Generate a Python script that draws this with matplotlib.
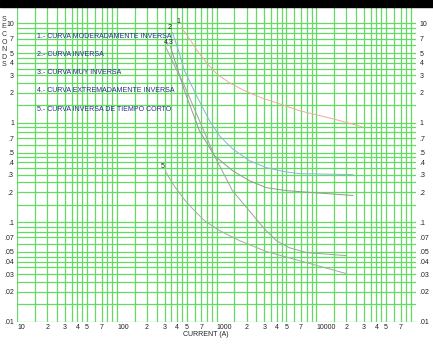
import matplotlib.pyplot as plt
from matplotlib.patches import Rectangle

plt.rcParams['font.family'] = ['Liberation Sans', 'DejaVu Sans']

# curve data: current (A) and time (s)
C1_I = [444, 533, 671, 807, 994, 1340, 1893, 2800, 4240, 6714, 14300, 28650]
C1_T = [9.0, 6.99, 4.93, 3.92, 3.11, 2.52, 2.10, 1.78, 1.55, 1.32, 1.10, 0.91]

C2_I = [361, 414, 475, 627, 845, 1064, 1436, 2123, 3140, 4750, 6720, 23300]
C2_T = [8.03, 5.29, 3.33, 1.87, 1.05, 0.74, 0.548, 0.415, 0.353, 0.322, 0.307, 0.30]

C3_I = [344, 395, 475, 671, 948, 1436, 2123, 3140, 5000, 23300]
C3_T = [5.8, 3.74, 2.10, 0.83, 0.466, 0.33, 0.261, 0.222, 0.207, 0.185]

C4_I = [307, 378, 475, 671, 948, 1436, 2123, 3000, 3970, 5333, 7960, 19800]
C4_T = [5.8, 3.74, 2.35, 1.05, 0.466, 0.208, 0.13, 0.086, 0.065, 0.0553, 0.0493, 0.046]

C5_I = [307, 378, 475, 571, 753, 1064, 1687, 3140, 6720, 19830]
C5_T = [0.322, 0.228, 0.168, 0.137, 0.1035, 0.0822, 0.0652, 0.0506, 0.041, 0.0304]

LEGEND = ["1.- CURVA MODERADAMENTE INVERSA",
          "2.- CURVA INVERSA",
          "3.- CURVA MUY INVERSA",
          "4.- CURVA EXTREMADAMENTE INVERSA",
          "5.- CURVA INVERSA DE TIEMPO CORTO"]

GRID_STEPS = [1, 1.5, 2, 2.5, 3, 3.5, 4, 4.5, 5, 6, 7, 8, 9]
X_LABEL_STEPS = [1, 2, 3, 4, 5, 7]
Y_LABEL_STEPS = [1, 2, 3, 4, 5, 7]

fig = plt.figure(figsize=(4.33, 3.46), dpi=100)
ax = fig.add_axes([0.040, 0.0708, 0.9207, 0.906])
ax.set_xscale('log')
ax.set_yscale('log')
ax.set_xlim(10, 100000)
ax.set_ylim(0.01, 14.2)

green = '#63db63'
x_grid = [s * 10**k for k in range(1, 5) for s in GRID_STEPS]
y_grid = [s * 10.0**k for k in range(-2, 2) for s in GRID_STEPS if s * 10.0**k <= 10]
x_major = [s * 10**k for k in range(1, 5) for s in X_LABEL_STEPS]
y_major = [s * 10.0**k for k in range(-2, 2) for s in Y_LABEL_STEPS if s * 10.0**k <= 10]

def fmt_x(v):
    return str(int(v)) if str(int(v))[0] == '1' else str(int(v))[0]

def fmt_y(v):
    if v >= 1:
        return str(int(round(v)))
    return ('%g' % v).lstrip('0')

ax.set_xticks(x_major)
ax.set_xticklabels([fmt_x(v) for v in x_major])
ax.set_xticks(x_grid, minor=True)
ax.set_xticklabels([], minor=True)
ax.set_yticks(y_major)
ax.set_yticklabels([fmt_y(v) for v in y_major])
ax.set_yticks(y_grid, minor=True)
ax.set_yticklabels([], minor=True)

ax.grid(True, which='both', color=green, linewidth=0.9)
ax.tick_params(which='both', length=0, labelsize=5, colors='#222222')
ax.tick_params(axis='y', labelright=True, pad=2.5)
ax.tick_params(axis='x', pad=2)
for lab in ax.get_xticklabels():
    if lab.get_text().startswith('1'):
        lab.set_horizontalalignment('left')
for sp in ax.spines.values():
    sp.set_visible(False)

curves = [(C1_I, C1_T, '#f0a8a0'), (C2_I, C2_T, '#8fb0e0'),
          (C3_I, C3_T, '#8c9c8c'), (C4_I, C4_T, '#a0a0a0'),
          (C5_I, C5_T, '#a8a8a8')]
for xs, ys, c in curves:
    ax.plot(xs, ys, color=c, linewidth=0.7)

ax.annotate('1', (C1_I[0], C1_T[0]), xytext=(-2, 2), textcoords='offset points',
            fontsize=5, ha='center', va='bottom', color='#222222')
ax.annotate('2', (C2_I[0], C2_T[0]), xytext=(-2, 1), textcoords='offset points',
            fontsize=5, ha='center', va='bottom', color='#222222')
ax.annotate('4,3', (C3_I[0], C3_T[0]), xytext=(-1, 1), textcoords='offset points',
            fontsize=5, ha='center', va='bottom', color='#222222')
ax.annotate('5', (C5_I[0], C5_T[0]), xytext=(-2, 1), textcoords='offset points',
            fontsize=5, ha='center', va='bottom', color='#222222')

for i, txt in enumerate(LEGEND):
    fig.text(37 / 433, 1 - (36 + i * 18.3) / 346, txt, fontsize=5,
             color='#2c2c8c', va='center', ha='left')

ax.set_xlabel('CURRENT (A)', fontsize=5, color='#222222')
ax.xaxis.set_label_coords((205.5 - 17.3) / 398.7, -0.031)
fig.text(4 / 433, 1 - 42 / 346, 'S\nE\nC\nO\nN\nD\nS', fontsize=5,
         ha='center', va='center', linespacing=1.13, color='#333333')

fig.patches.append(Rectangle((0, 1 - 7 / 346), 1, 7 / 346, transform=fig.transFigure,
                             color='black', zorder=10))

fig.savefig('out.png', dpi=100)
